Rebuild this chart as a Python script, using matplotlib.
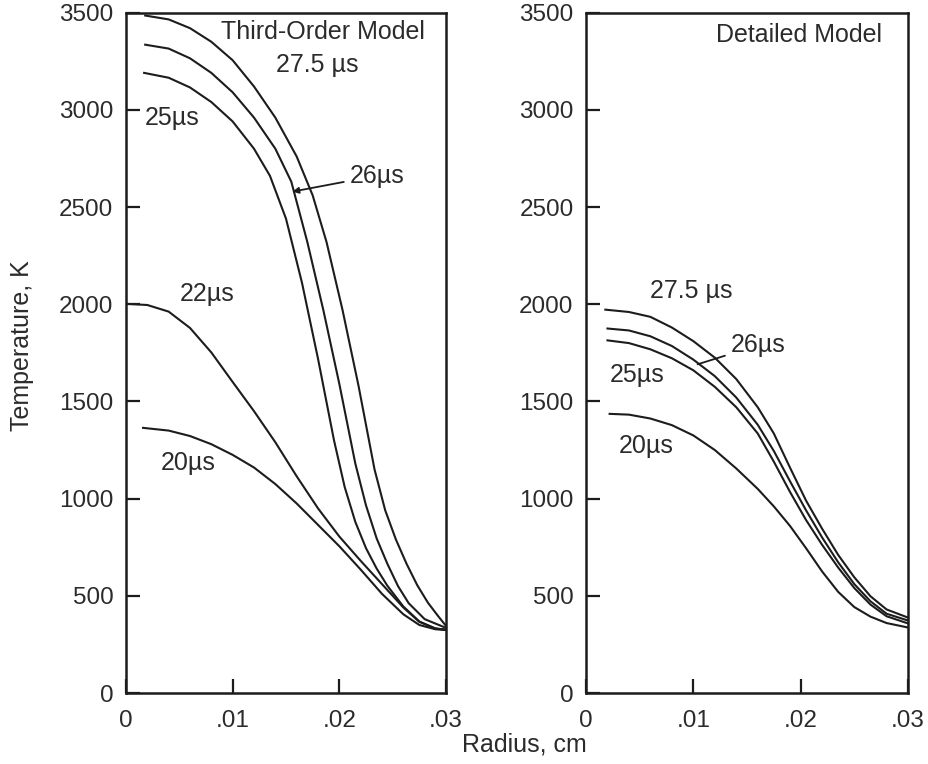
import matplotlib
matplotlib.use("Agg")
import matplotlib.pyplot as plt

plt.rcParams['font.family'] = ['Liberation Sans', 'DejaVu Sans']

INK = '#1c1c1c'
TXT = '#2b2b2b'

# Third-Order Model (left panel): radius in cm, temperature in K
r_third_275 = [0.0018, 0.0040, 0.0060, 0.0080, 0.0100, 0.0120, 0.0140, 0.0160,
               0.0175, 0.0188, 0.0203, 0.0218, 0.0233, 0.0243, 0.0253, 0.0263,
               0.0273, 0.0283, 0.0292, 0.0300]
t_third_275 = [3485, 3465, 3420, 3350, 3255, 3120, 2960, 2760,
               2560, 2320, 1970, 1580, 1150, 940, 790, 665,
               555, 465, 400, 345]

r_third_26 = [0.0018, 0.0040, 0.0060, 0.0080, 0.0100, 0.0120, 0.0140, 0.0155,
              0.0170, 0.0185, 0.0200, 0.0215, 0.0225, 0.0235, 0.0245, 0.0255,
              0.0265, 0.0280, 0.0300]
t_third_26 = [3335, 3315, 3265, 3190, 3090, 2960, 2800, 2630,
              2320, 1970, 1590, 1180, 965, 795, 665, 550,
              462, 380, 335]

r_third_25 = [0.0017, 0.0040, 0.0060, 0.0080, 0.0100, 0.0120, 0.0135, 0.0150,
              0.0165, 0.0180, 0.0195, 0.0205, 0.0215, 0.0225, 0.0235, 0.0245,
              0.0260, 0.0275, 0.0290, 0.0300]
t_third_25 = [3190, 3165, 3115, 3040, 2940, 2800, 2660, 2440,
              2110, 1720, 1300, 1060, 880, 745, 640, 552,
              445, 368, 332, 325]

r_third_22 = [0.0, 0.0020, 0.0040, 0.0060, 0.0080, 0.0100, 0.0120, 0.0140,
              0.0160, 0.0180, 0.0200, 0.0220, 0.0240, 0.0260, 0.0275, 0.0290,
              0.0300]
t_third_22 = [2002, 1996, 1962, 1878, 1752, 1600, 1450, 1290,
              1115, 950, 805, 680, 560, 440, 366, 332,
              326]

r_third_20 = [0.0016, 0.0040, 0.0060, 0.0080, 0.0100, 0.0120, 0.0140, 0.0160,
              0.0180, 0.0200, 0.0220, 0.0240, 0.0260, 0.0275, 0.0290, 0.0300]
t_third_20 = [1364, 1350, 1322, 1280, 1225, 1160, 1075, 975,
              865, 755, 635, 510, 405, 350, 328, 324]

# Detailed Model (right panel)
r_det_275 = [0.0018, 0.0040, 0.0060, 0.0080, 0.0100, 0.0120, 0.0140, 0.0160,
             0.0175, 0.0190, 0.0205, 0.0220, 0.0235, 0.0250, 0.0265, 0.0280,
             0.0300]
t_det_275 = [1972, 1960, 1935, 1880, 1810, 1725, 1615, 1470,
             1335, 1160, 990, 845, 710, 595, 498, 430,
             388]

r_det_26 = [0.0020, 0.0040, 0.0060, 0.0080, 0.0100, 0.0120, 0.0140, 0.0160,
            0.0175, 0.0190, 0.0205, 0.0220, 0.0235, 0.0250, 0.0265, 0.0280,
            0.0300]
t_det_26 = [1875, 1865, 1835, 1785, 1715, 1630, 1520, 1380,
            1245, 1090, 940, 800, 672, 560, 472, 408,
            373]

r_det_25 = [0.0020, 0.0040, 0.0060, 0.0080, 0.0100, 0.0120, 0.0140, 0.0160,
            0.0175, 0.0190, 0.0205, 0.0220, 0.0235, 0.0250, 0.0265, 0.0280,
            0.0300]
t_det_25 = [1814, 1800, 1768, 1722, 1660, 1575, 1470, 1335,
            1190, 1035, 890, 762, 645, 540, 455, 395,
            358]

r_det_20 = [0.0022, 0.0040, 0.0060, 0.0080, 0.0100, 0.0120, 0.0140, 0.0160,
            0.0175, 0.0190, 0.0205, 0.0220, 0.0235, 0.0250, 0.0265, 0.0280,
            0.0300]
t_det_20 = [1436, 1432, 1412, 1378, 1325, 1250, 1155, 1050,
            960, 860, 745, 625, 520, 442, 393, 360,
            337]

x_ticks = [0, 0.01, 0.02, 0.03]
x_tick_labels = ['0', '.01', '.02', '.03']
y_ticks = [0, 500, 1000, 1500, 2000, 2500, 3000, 3500]


def style_axes(ax):
    ax.set_xlim(0, 0.03)
    ax.set_ylim(0, 3500)
    ax.set_xticks(x_ticks)
    ax.set_xticklabels(x_tick_labels)
    ax.set_yticks(y_ticks)
    ax.tick_params(direction='in', length=10, width=1.6, colors=INK,
                   labelcolor=TXT, labelsize=17.5, top=False, right=False)
    ax.tick_params(axis='x', pad=12)
    ax.tick_params(axis='y', pad=9)
    for sp in ax.spines.values():
        sp.set_linewidth(1.8)
        sp.set_color(INK)


fig = plt.figure(figsize=(9.29, 7.64), dpi=100)
ax1 = fig.add_axes([0.1356, 0.0929, 0.3445, 0.8906])
ax2 = fig.add_axes([0.6308, 0.0929, 0.3466, 0.8906])

for r, t in [(r_third_275, t_third_275), (r_third_26, t_third_26),
             (r_third_25, t_third_25), (r_third_22, t_third_22),
             (r_third_20, t_third_20)]:
    ax1.plot(r, t, color=INK, lw=1.5, solid_joinstyle='round')

for r, t in [(r_det_275, t_det_275), (r_det_26, t_det_26),
             (r_det_25, t_det_25), (r_det_20, t_det_20)]:
    ax2.plot(r, t, color=INK, lw=1.5, solid_joinstyle='round')

style_axes(ax1)
style_axes(ax2)

fs = 18
ax1.text(0.0185, 3402, 'Third-Order Model', ha='center', va='center', fontsize=fs, color=TXT)
ax1.text(0.0179, 3232, '27.5 µs', ha='center', va='center', fontsize=fs, color=TXT)
ax1.text(0.0043, 2960, '25µs', ha='center', va='center', fontsize=fs, color=TXT)
ax1.annotate('26µs', xy=(0.0156, 2579), xytext=(0.0235, 2661),
             ha='center', va='center', fontsize=fs, color=TXT,
             arrowprops=dict(arrowstyle='-|>', color=INK, lw=1.3,
                             mutation_scale=9, shrinkA=2, shrinkB=0))
ax1.text(0.0076, 2054, '22µs', ha='center', va='center', fontsize=fs, color=TXT)
ax1.text(0.0058, 1184, '20µs', ha='center', va='center', fontsize=fs, color=TXT)

ax2.text(0.0198, 3387, 'Detailed Model', ha='center', va='center', fontsize=fs, color=TXT)
ax2.text(0.0098, 2069, '27.5 µs', ha='center', va='center', fontsize=fs, color=TXT)
ax2.annotate('26µs', xy=(0.0104, 1691), xytext=(0.0160, 1788),
             ha='center', va='center', fontsize=fs, color=TXT,
             arrowprops=dict(arrowstyle='-', color=INK, lw=1.3,
                             shrinkA=2, shrinkB=0))
ax2.text(0.0048, 1635, '25µs', ha='center', va='center', fontsize=fs, color=TXT)
ax2.text(0.0056, 1272, '20µs', ha='center', va='center', fontsize=fs, color=TXT)

fig.text(0.0237, 0.548, 'Temperature, K', rotation=90, ha='center', va='center',
         fontsize=fs, color=TXT)
fig.text(0.564, 0.025, 'Radius, cm', ha='center', va='center', fontsize=fs, color=TXT)

fig.savefig('out.png', dpi=100, facecolor='white')
